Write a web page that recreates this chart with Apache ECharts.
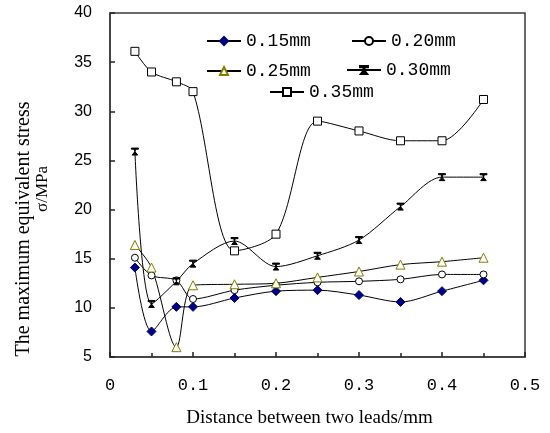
<!DOCTYPE html>
<html>
<head>
<meta charset="utf-8">
<script src="https://cdn.jsdelivr.net/npm/echarts@6/dist/echarts.min.js"></script>
<style>
  html, body { margin: 0; padding: 0; background: #fff; }
  #chart { width: 550px; height: 433px; }
</style>
</head>
<body>
<div id="chart"></div>
<script>
// Lead spacing (mm) at which the stress was computed
const distances = [0.03, 0.05, 0.08, 0.1, 0.15, 0.2, 0.25, 0.3, 0.35, 0.4, 0.45];

// Maximum equivalent stress (MPa) for each lead width
const stress015 = [14.1, 7.6, 10.1, 10.1, 11.0, 11.7, 11.8, 11.3, 10.6, 11.7, 12.8];
const stress020 = [15.1, 13.3, 12.8, 10.9, 11.8, 12.3, 12.6, 12.7, 12.9, 13.4, 13.4];
const stress025 = [16.4, 14.1, 6.0, 12.3, 12.4, 12.5, 13.1, 13.7, 14.4, 14.7, 15.1];
const stress030 = [25.9, 10.4, 12.7, 14.5, 16.8, 14.2, 15.3, 16.9, 20.3, 23.3, 23.3];
const stress035 = [36.1, 34.0, 33.0, 32.0, 15.8, 17.5, 29.0, 28.0, 27.0, 27.0, 31.2];

const seriesNames = ['0.15mm', '0.20mm', '0.25mm', '0.30mm', '0.35mm'];

const pairs = (ys) => distances.map((x, i) => [x, ys[i]]);

const asterisk = 'path://M0,0L10,0L10,1.6L6.2,1.6L5,5L9,10L1,10L5,5L3.8,1.6L0,1.6Z';

function lineSeries(name, ys, symbol, size, fill, border) {
  return {
    name: name,
    type: 'line',
    data: pairs(ys),
    smooth: 0.3,
    symbol: symbol,
    symbolSize: size,
    showSymbol: true,
    lineStyle: { color: '#000', width: 1 },
    itemStyle: { color: fill, borderColor: border, borderWidth: 1 },
    emphasis: { disabled: true },
    animation: false
  };
}

const legendText = { fontFamily: 'Liberation Mono', fontSize: 18, color: '#000' };
function legendAt(name, left, top) {
  return {
    data: [name], left: left, top: top,
    itemWidth: 34, itemHeight: 10, itemGap: 0,
    textStyle: legendText, padding: 0
  };
}

const chart = echarts.init(document.getElementById('chart'), null, { renderer: 'canvas' });
chart.setOption({
  backgroundColor: '#fff',
  animation: false,
  grid: {
    left: 110, right: 25, top: 13, bottom: 74,
    show: true, borderColor: '#3a3a3a', borderWidth: 1.5, backgroundColor: 'transparent'
  },
  legend: [
    legendAt(seriesNames[0], 206, 32),
    legendAt(seriesNames[1], 351, 32),
    legendAt(seriesNames[2], 206, 62),
    legendAt(seriesNames[3], 346, 61),
    legendAt(seriesNames[4], 269, 83)
  ],
  xAxis: {
    type: 'value', min: 0, max: 0.5, interval: 0.1,
    name: 'Distance between two leads/mm',
    nameLocation: 'middle', nameGap: 52,
    nameTextStyle: { fontFamily: 'Liberation Serif', fontSize: 19, color: '#000', padding: [0, 16, 0, 0] },
    axisLine: { show: true, lineStyle: { color: '#3a3a3a', width: 1.5 } },
    axisTick: { show: true, inside: true, length: 5, lineStyle: { color: '#222', width: 1.5 } },
    minorTick: { show: true, splitNumber: 2, length: 4, lineStyle: { color: '#222', width: 1.5 } },
    splitLine: { show: false },
    axisLabel: {
      margin: 20, fontFamily: 'Liberation Mono', fontSize: 17, color: '#000',
      formatter: (v) => String(Math.round(v * 10) / 10)
    }
  },
  yAxis: {
    type: 'value', min: 5, max: 40, interval: 5,
    name: '{a|The maximum equivalent stress}\n{b|σ/MPa}',
    nameLocation: 'middle', nameRotate: 90, nameGap: 58,
    nameTextStyle: {
      color: '#000',
      rich: {
        a: { fontFamily: 'Liberation Serif', fontSize: 20, lineHeight: 19, color: '#000', padding: [0, 88, 0, 0] },
        b: { fontFamily: 'Liberation Serif', fontSize: 17, lineHeight: 19, color: '#000', padding: [0, 8, 0, 0] }
      }
    },
    axisLine: { show: true, lineStyle: { color: '#3a3a3a', width: 1.5 } },
    axisTick: { show: true, inside: true, length: 5, lineStyle: { color: '#222', width: 1.5 } },
    splitLine: { show: false },
    axisLabel: { margin: 18, fontFamily: 'Liberation Sans', fontSize: 16, color: '#000' }
  },
  series: [
    lineSeries(seriesNames[0], stress015, 'diamond', 9, '#000080', '#000080'),
    lineSeries(seriesNames[1], stress020, 'circle', 7, '#fff', '#000'),
    lineSeries(seriesNames[2], stress025, 'triangle', 9, '#fff', '#808000'),
    lineSeries(seriesNames[3], stress030, asterisk, [7, 7], '#000', '#000'),
    lineSeries(seriesNames[4], stress035, 'rect', 8, '#fff', '#000')
  ]
});
</script>
</body>
</html>
